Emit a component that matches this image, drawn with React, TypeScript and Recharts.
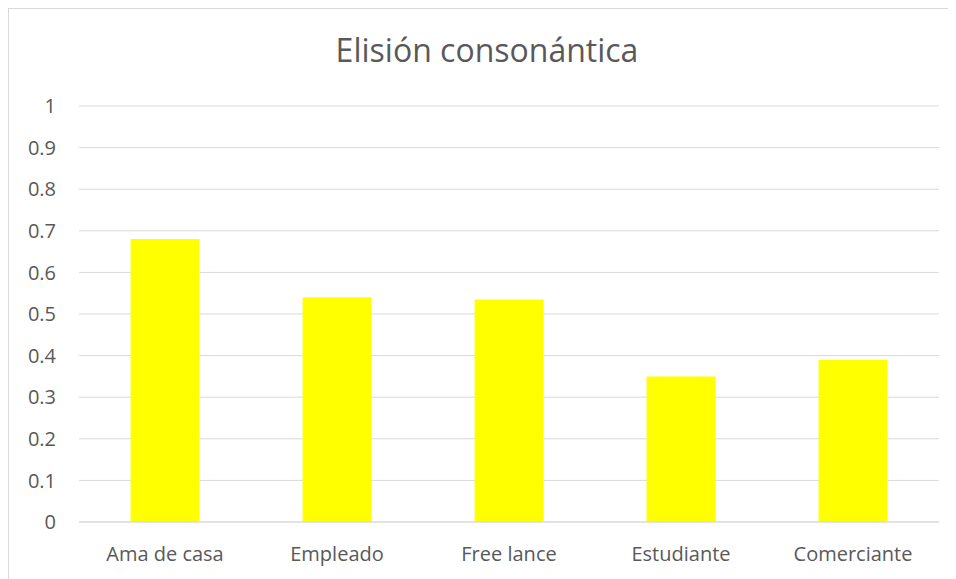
import React from "react"
import { Bar, BarChart, CartesianGrid, XAxis, YAxis } from "recharts"

const categories = ["Ama de casa", "Empleado", "Free lance", "Estudiante", "Comerciante"]
const elisionValues = [0.68, 0.54, 0.535, 0.35, 0.39]
const yTicks = [0, 0.1, 0.2, 0.3, 0.4, 0.5, 0.6, 0.7, 0.8, 0.9, 1]

const data = categories.map((name, i) => ({ name, value: elisionValues[i] }))

const FONT = "'Open Sans', sans-serif"
const TEXT = "#595959"
const GRID = "#d9d9d9"

const App = () => {
    return (
        <div
            style={{
                position: "relative",
                width: 948,
                height: 571,
                overflow: "hidden",
                boxSizing: "border-box",
                borderTop: `1px solid ${GRID}`,
                borderLeft: `1px solid ${GRID}`,
                background: "#fff",
                fontFamily: FONT,
            }}
        >
            <div
                style={{
                    position: "absolute",
                    left: 0,
                    top: 25,
                    width: 956,
                    textAlign: "center",
                    fontSize: 32,
                    lineHeight: "32px",
                    color: TEXT,
                }}
            >
                Elisión consonántica
            </div>
            <BarChart
                width={947}
                height={570}
                data={data}
                margin={{ top: 97, right: 17, bottom: 17, left: 0 }}
                barCategoryGap="30%"
            >
                <CartesianGrid horizontal vertical={false} stroke={GRID} strokeWidth={1} />
                <XAxis
                    dataKey="name"
                    height={40}
                    axisLine={{ stroke: GRID, strokeWidth: 1 }}
                    tickLine={false}
                    tickMargin={19}
                    interval={0}
                    tick={{ fill: TEXT, fontSize: 20, fontFamily: FONT }}
                />
                <YAxis
                    domain={[0, 1]}
                    ticks={yTicks}
                    width={70}
                    axisLine={false}
                    tickLine={false}
                    tickMargin={17}
                    interval={0}
                    tick={{ fill: TEXT, fontSize: 20, fontFamily: FONT }}
                />
                <Bar dataKey="value" fill="#ffff00" isAnimationActive={false} />
            </BarChart>
        </div>
    )
}

export default App
